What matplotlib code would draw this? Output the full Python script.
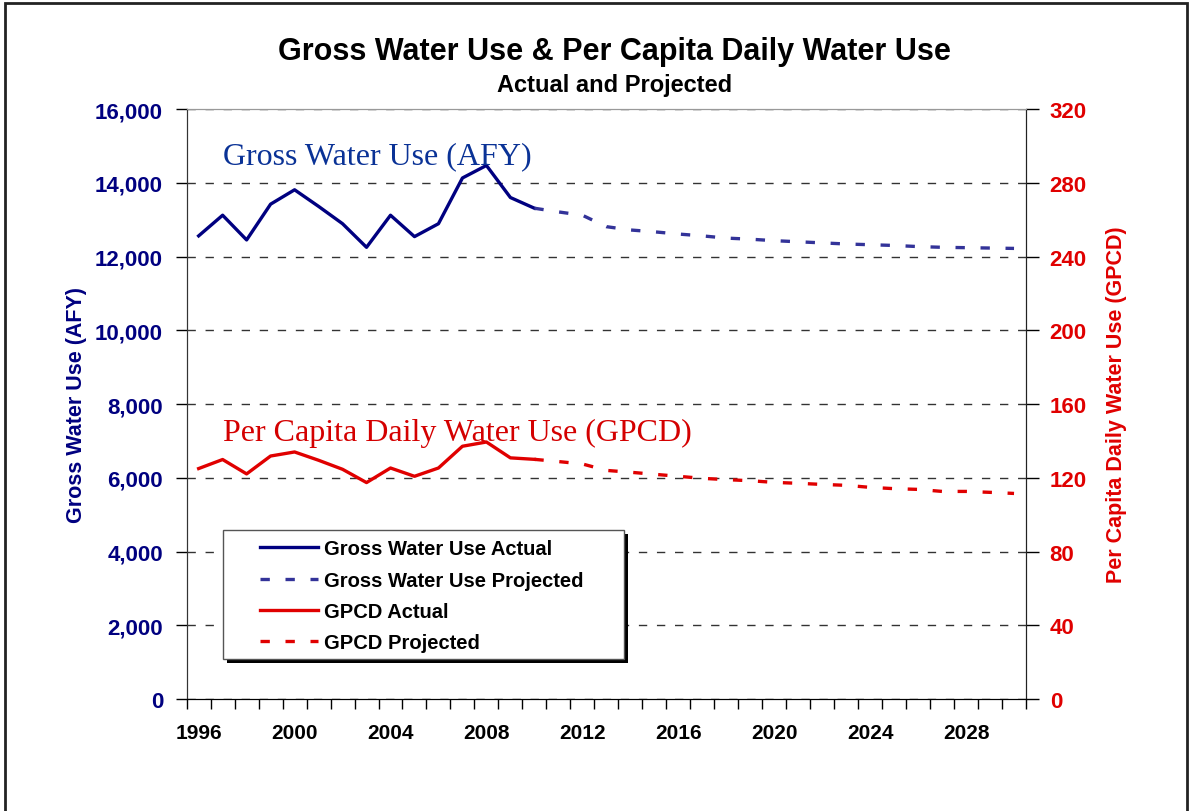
import matplotlib
matplotlib.use("Agg")
import matplotlib.pyplot as plt
from matplotlib.patches import Rectangle

# data
years_actual = list(range(1996, 2011))
gross_actual = [12560, 13120, 12450, 13420, 13810, 13360, 12890, 12250,
                13120, 12540, 12890, 14130, 14470, 13600, 13310]
gpcd_actual = [125.0, 129.9, 122.1, 131.8, 134.0, 129.5, 124.6, 117.4,
               125.3, 120.8, 125.3, 137.1, 139.4, 130.8, 130.0]

years_proj = list(range(2010, 2031))
gross_proj = [13310, 13210, 13120, 12810, 12720, 12670, 12610, 12560, 12500,
              12470, 12430, 12400, 12370, 12340, 12320, 12300, 12270, 12250,
              12240, 12230, 12220]
gpcd_proj = [130.0, 128.8, 127.5, 124.0, 123.0, 121.9, 120.8, 119.7, 119.0,
             118.4, 117.5, 117.0, 116.4, 115.9, 114.8, 114.1, 113.7, 112.6,
             112.6, 112.1, 111.5]

year_labels = list(range(1996, 2029, 4))
left_ticks = list(range(0, 16001, 2000))
right_ticks = list(range(0, 321, 40))

navy = "#000080"
navy_proj = "#333399"
red = "#E00000"

plt.rcParams['font.family'] = ['Liberation Sans', 'DejaVu Sans']

fig = plt.figure(figsize=(11.95, 8.12), dpi=100)
ax = fig.add_axes([0.1562, 0.1379, 0.7024, 0.7266])
ax2 = ax.twinx()

ax.plot(years_actual, gross_actual, color=navy, lw=2.4, zorder=3,
        label="Gross Water Use Actual")
ax.plot(years_proj, gross_proj, color=navy_proj, lw=2.4, dashes=(2.8, 4.7),
        zorder=3, label="Gross Water Use Projected")
ax2.plot(years_actual, gpcd_actual, color=red, lw=2.4,
         label="GPCD Actual")
ax2.plot(years_proj, gpcd_proj, color=red, lw=2.4, dashes=(2.8, 4.7),
         label="GPCD Projected")

ax.set_xlim(1995.5, 2030.5)
ax.set_ylim(0, 16000)
ax2.set_ylim(0, 320)

ax.set_xticks(year_labels)
ax.set_xticks([y - 0.5 for y in range(1996, 2032)], minor=True)
ax.tick_params(axis='x', which='major', length=0, pad=17, labelsize=15)
ax.tick_params(axis='x', which='minor', length=7, direction='out', width=1)
for t in ax.get_xticklabels():
    t.set_fontweight('bold')

ax.set_yticks(left_ticks)
ax.set_yticklabels([f"{v:,}" for v in left_ticks], fontweight='bold',
                   color=navy, fontsize=16)
ax.tick_params(axis='y', length=8, pad=9, width=1)
ax2.set_yticks(right_ticks)
ax2.set_yticklabels([str(v) for v in right_ticks], fontweight='bold',
                    color=red, fontsize=16)
ax2.tick_params(axis='y', length=9, pad=8, width=1)

ax.set_ylabel("Gross Water Use (AFY)", color=navy, fontweight='bold',
              fontsize=15.5, labelpad=6)
ax2.set_ylabel("Per Capita Daily Water Use (GPCD)", color=red,
               fontweight='bold', fontsize=15.5, labelpad=14)

ax.grid(axis='y', color='#333333', lw=1, linestyle=(0, (6, 7)))
ax.set_axisbelow(True)
for a in (ax, ax2):
    a.spines['top'].set_color('#999999')
    a.spines['left'].set_color('#333333')
    a.spines['right'].set_color('#222222')
    a.spines['bottom'].set_color('black')

ax.text(0.0433, 0.9085, "Gross Water Use (AFY)", transform=ax.transAxes,
        family='Liberation Serif', fontsize=23, color='#0a3296',
        va='baseline', ha='left')
ax.text(0.0433, 0.439, "Per Capita Daily Water Use (GPCD)",
        transform=ax.transAxes, family='Liberation Serif', fontsize=23,
        color='#d40000', va='baseline', ha='left')

# legend box with shadow
ax2.add_patch(Rectangle((0.0481, 0.0610), 0.4778, 0.2186,
                        transform=ax2.transAxes, facecolor='black',
                        edgecolor='none', zorder=4))
ax2.add_patch(Rectangle((0.0433, 0.0678), 0.4778, 0.2186,
                        transform=ax2.transAxes, facecolor='white',
                        edgecolor='#555555', lw=1, zorder=4.5))
h1, l1 = ax.get_legend_handles_labels()
h2, l2 = ax2.get_legend_handles_labels()
leg = ax2.legend(h1 + h2, l1 + l2, loc='center left',
                 bbox_to_anchor=(0.0873, 0.1753), frameon=False,
                 borderpad=0, borderaxespad=0, handlelength=2.9,
                 handletextpad=0.3, labelspacing=0.6,
                 prop={'weight': 'bold', 'size': 14.5})
leg.set_zorder(6)

fig.text(0.514, 0.926, "Gross Water Use & Per Capita Daily Water Use",
         ha='center', va='baseline', fontsize=22, fontweight='bold')
fig.text(0.514, 0.8867, "Actual and Projected", ha='center',
         va='baseline', fontsize=17, fontweight='bold')

# outer frame
fig.add_artist(Rectangle((0.0042, -0.02), 0.989, 1.015,
                         transform=fig.transFigure, fill=False,
                         edgecolor='#222222', lw=2))

fig.savefig("out.png", dpi=100)
